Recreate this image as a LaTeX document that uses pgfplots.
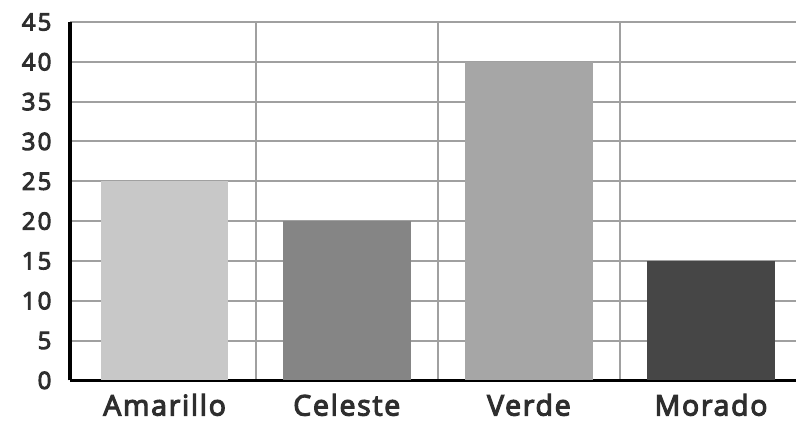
\documentclass[border=0pt]{standalone}
\usepackage{pgfplots}
\pgfplotsset{compat=1.18}
\usepackage{fontspec}
\setmainfont{Open Sans}
\newfontfamily\labfont{Open Sans}[FakeBold=4, LetterSpace=6]
\newfontfamily\numfont{Open Sans}[FakeBold=4, LetterSpace=9]
\definecolor{txt}{HTML}{2E2E2E}
\definecolor{grd}{HTML}{A0A0A0}
\begin{document}
\begin{tikzpicture}
\begin{axis}[
    scale only axis,
    width=727pt, height=359pt,
    xmin=-0.52, xmax=3.465,
    ymin=0, ymax=45,
    ytick={0,5,...,45},
    xtick={0,1,2,3},
    xticklabels={Amarillo,Celeste,Verde,Morado},
    minor xtick={0.5,1.5,2.5},
    xminorgrids=true, ymajorgrids=true,
    grid style={grd, line width=2pt},
    minor grid style={grd, line width=2pt},
    major tick length=0pt, minor tick length=0pt,
    axis lines=left,
    axis line style={-},
    x axis line style={black, line width=2.5pt},
    y axis line style={black, line width=3.5pt},
    /pgf/number format/assume math mode=true,
    yticklabel style={font=\numfont\fontsize{24}{24}\selectfont, text=txt, xshift=-15pt},
    xticklabel style={font=\labfont\fontsize{28.5}{28.5}\selectfont, text=txt, yshift=-10pt},
]
\addplot[ybar, bar shift=0pt, bar width=0.7, fill={rgb,255:red,200;green,200;blue,200}, draw=none] coordinates {(0,25)};
\addplot[ybar, bar shift=0pt, bar width=0.7, fill={rgb,255:red,133;green,133;blue,133}, draw=none] coordinates {(1,20)};
\addplot[ybar, bar shift=0pt, bar width=0.7, fill={rgb,255:red,166;green,166;blue,166}, draw=none] coordinates {(2,40)};
\addplot[ybar, bar shift=0pt, bar width=0.7, fill={rgb,255:red,70;green,70;blue,70}, draw=none] coordinates {(3,15)};
\end{axis}
\path (current axis.south west) ++(-70pt,-41pt) coordinate (a);
\path (current axis.north east) ++(0pt,22pt) coordinate (b);
\path (a) rectangle (b);
\end{tikzpicture}
\end{document}
